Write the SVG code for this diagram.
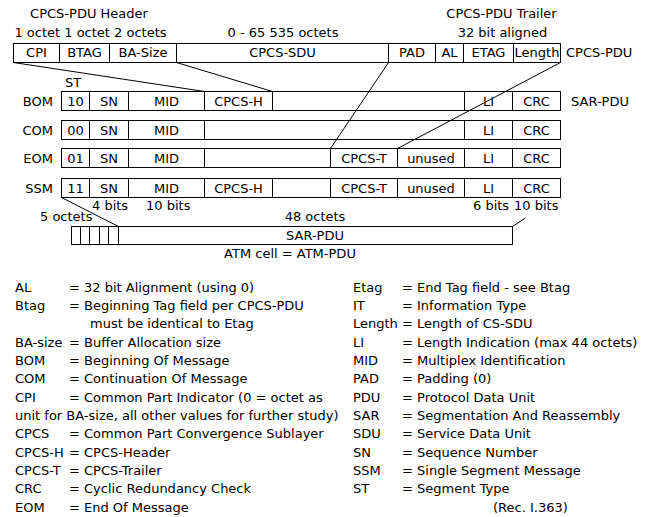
<svg xmlns="http://www.w3.org/2000/svg" width="647" height="517" viewBox="0 0 647 517">
<style>
text{font-family:"DejaVu Sans","Noto Sans",sans-serif;font-size:13px;fill:#000}
.m{text-anchor:middle}
.e{text-anchor:end}
.box{fill:#fff;stroke:#000;stroke-width:1}
.d{stroke:#000;stroke-width:1;fill:none}
</style>
<rect width="647" height="517" fill="#fff"/>
<g id="labels-top">
<text class="m" x="89" y="18">CPCS-PDU Header</text>
<text class="m" x="90.5" y="37">1 octet 1 octet  2 octets</text>
<text class="m" x="283" y="37">0 - 65 535 octets</text>
<text class="m" x="501.5" y="18">CPCS-PDU Trailer</text>
<text class="m" x="502.5" y="37">32 bit aligned</text>
<text x="566" y="57">CPCS-PDU</text>
</g>
<g id="cpcs-pdu">
<rect class="box" x="13.5" y="43.5" width="547" height="19"/>
<path class="d" d="M59.5 43.5V62.5M109.5 43.5V62.5M176.5 43.5V62.5M388.5 43.5V62.5M435.5 43.5V62.5M463.5 43.5V62.5M513.5 43.5V62.5"/>
<text class="m" x="36.5" y="57">CPI</text>
<text class="m" x="84.5" y="57">BTAG</text>
<text class="m" x="143" y="57">BA-Size</text>
<text class="m" x="282.5" y="57">CPCS-SDU</text>
<text class="m" x="412" y="57">PAD</text>
<text class="m" x="449.5" y="57">AL</text>
<text class="m" x="488.5" y="57">ETAG</text>
<text class="m" x="537" y="57">Length</text>
</g>
<text x="65" y="87">ST</text>
<g id="bom">
<text class="e" x="53" y="106">BOM</text>
<rect class="box" x="61.5" y="91.5" width="499" height="19"/>
<path class="d" d="M89.5 91.5V110.5M128.5 91.5V110.5M204.5 91.5V110.5M272.5 91.5V110.5M464.5 91.5V110.5M512.5 91.5V110.5"/>
<text class="m" x="75.5" y="106">10</text>
<text class="m" x="109" y="106">SN</text>
<text class="m" x="166.5" y="106">MID</text>
<text class="m" x="238.5" y="106">CPCS-H</text>
<text class="m" x="488.5" y="106">LI</text>
<text class="m" x="536.5" y="106">CRC</text>
<text x="571" y="106">SAR-PDU</text>
</g>
<g id="com">
<text class="e" x="53" y="135">COM</text>
<rect class="box" x="61.5" y="120.5" width="499" height="19"/>
<path class="d" d="M89.5 120.5V139.5M128.5 120.5V139.5M204.5 120.5V139.5M464.5 120.5V139.5M512.5 120.5V139.5"/>
<text class="m" x="75.5" y="135">00</text>
<text class="m" x="109" y="135">SN</text>
<text class="m" x="166.5" y="135">MID</text>
<text class="m" x="488.5" y="135">LI</text>
<text class="m" x="536.5" y="135">CRC</text>
</g>
<g id="eom">
<text class="e" x="53" y="163">EOM</text>
<rect class="box" x="61.5" y="148.5" width="499" height="19"/>
<path class="d" d="M89.5 148.5V167.5M128.5 148.5V167.5M204.5 148.5V167.5M330.5 148.5V167.5M397.5 148.5V167.5M464.5 148.5V167.5M512.5 148.5V167.5"/>
<text class="m" x="75.5" y="163">01</text>
<text class="m" x="109" y="163">SN</text>
<text class="m" x="166.5" y="163">MID</text>
<text class="m" x="364" y="163">CPCS-T</text>
<text class="m" x="431" y="163">unused</text>
<text class="m" x="488.5" y="163">LI</text>
<text class="m" x="536.5" y="163">CRC</text>
</g>
<g id="ssm">
<text class="e" x="53" y="193">SSM</text>
<rect class="box" x="61.5" y="178.5" width="499" height="19"/>
<path class="d" d="M89.5 178.5V197.5M128.5 178.5V197.5M204.5 178.5V197.5M272.5 178.5V197.5M330.5 178.5V197.5M397.5 178.5V197.5M464.5 178.5V197.5M512.5 178.5V197.5"/>
<text class="m" x="75.5" y="193">11</text>
<text class="m" x="109" y="193">SN</text>
<text class="m" x="166.5" y="193">MID</text>
<text class="m" x="238.5" y="193">CPCS-H</text>
<text class="m" x="364" y="193">CPCS-T</text>
<text class="m" x="431" y="193">unused</text>
<text class="m" x="488.5" y="193">LI</text>
<text class="m" x="536.5" y="193">CRC</text>
</g>
<g id="bit-labels">
<text x="92" y="210">4 bits</text>
<text x="146" y="210">10 bits</text>
<text x="473" y="210">6 bits</text>
<text x="514" y="210">10 bits</text>
<text x="40" y="221">5 octets</text>
<text class="m" x="315" y="221">48 octets</text>
</g>
<g id="atm-cell">
<rect class="box" x="71.5" y="226.5" width="441" height="18"/>
<path class="d" d="M80.5 226.5V244.5M89.5 226.5V244.5M99.5 226.5V244.5M108.5 226.5V244.5M118.5 226.5V244.5"/>
<text class="m" x="315" y="240">SAR-PDU</text>
<text class="m" x="290" y="258">ATM cell = ATM-PDU</text>
</g>
<g id="connectors" class="d">
<path class="d" d="M13.5 62.5L204.5 91.5"/>
<path class="d" d="M176.5 62.5L272.5 91.5"/>
<path class="d" d="M388.5 62.5L330.5 148.5"/>
<path class="d" d="M560.5 62.5L397.5 148.5"/>
<path class="d" d="M61.5 197.5L118.5 226.5"/>
<path class="d" d="M512.5 226.5L525.5 218"/>
</g>
<g id="legend">
<text x="15" y="291.5">AL</text><text x="69" y="291.5">= 32 bit Alignment (using 0)</text>
<text x="15" y="309.8">Btag</text><text x="69" y="309.8">= Beginning Tag field per CPCS-PDU</text>
<text x="90" y="328.2">must be identical to Etag</text>
<text x="15" y="346.5">BA-size</text><text x="69" y="346.5">= Buffer Allocation size</text>
<text x="15" y="364.8">BOM</text><text x="69" y="364.8">= Beginning Of Message</text>
<text x="15" y="383.2">COM</text><text x="69" y="383.2">= Continuation Of Message</text>
<text x="15" y="401.5">CPI</text><text x="69" y="401.5">= Common Part Indicator (0 = octet as</text>
<text x="15" y="419.8">unit for BA-size, all other values for further study)</text>
<text x="15" y="438.2">CPCS</text><text x="69" y="438.2">= Common Part Convergence Sublayer</text>
<text x="15" y="456.5">CPCS-H</text><text x="69" y="456.5">= CPCS-Header</text>
<text x="15" y="474.8">CPCS-T</text><text x="69" y="474.8">= CPCS-Trailer</text>
<text x="15" y="493.2">CRC</text><text x="69" y="493.2">= Cyclic Redundancy Check</text>
<text x="15" y="511.5">EOM</text><text x="69" y="511.5">= End Of Message</text>
<text x="353" y="291.5">Etag</text><text x="402" y="291.5">= End Tag field - see Btag</text>
<text x="353" y="309.8">IT</text><text x="402" y="309.8">= Information Type</text>
<text x="353" y="328.2">Length</text><text x="402" y="328.2">= Length of CS-SDU</text>
<text x="353" y="346.5">LI</text><text x="402" y="346.5">= Length Indication (max 44 octets)</text>
<text x="353" y="364.8">MID</text><text x="402" y="364.8">= Multiplex Identification</text>
<text x="353" y="383.2">PAD</text><text x="402" y="383.2">= Padding (0)</text>
<text x="353" y="401.5">PDU</text><text x="402" y="401.5">= Protocol Data Unit</text>
<text x="353" y="419.8">SAR</text><text x="402" y="419.8">= Segmentation And Reassembly</text>
<text x="353" y="438.2">SDU</text><text x="402" y="438.2">= Service Data Unit</text>
<text x="353" y="456.5">SN</text><text x="402" y="456.5">= Sequence Number</text>
<text x="353" y="474.8">SSM</text><text x="402" y="474.8">= Single Segment Message</text>
<text x="353" y="493.2">ST</text><text x="402" y="493.2">= Segment Type</text>
<text x="493" y="511.5">(Rec. I.363)</text>
</g>
</svg>
